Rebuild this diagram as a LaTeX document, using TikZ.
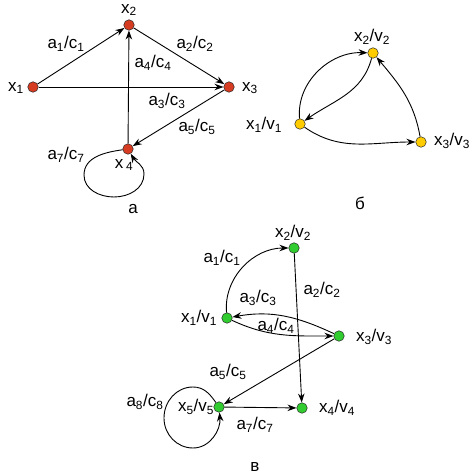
\documentclass[tikz,border=0pt]{standalone}
\usepackage{fontspec}
\setmainfont{Liberation Sans}
\usetikzlibrary{arrows.meta}
\definecolor{dotred}{RGB}{214,60,34}
\definecolor{dotyellow}{RGB}{255,204,0}
\definecolor{dotgreen}{RGB}{48,204,48}
\newcommand{\ac}[1]{a\textsubscript{#1}/c\textsubscript{#1}}
\newcommand{\xv}[1]{x\textsubscript{#1}/v\textsubscript{#1}}

\begin{document}
\begin{tikzpicture}[x=1pt, y=1pt,
  font=\fontsize{17}{20}\selectfont,
  vtx/.style={circle, draw=black!85, line width=0.5pt, inner sep=0pt, minimum size=10.5pt},
  vred/.style={vtx, fill=dotred},
  vyel/.style={vtx, fill=dotyellow},
  vgrn/.style={vtx, fill=dotgreen},
  lbl/.style={inner sep=0pt},
  arrow/.style={-{Stealth[length=9pt,width=6.5pt]}, line width=0.9pt}
]
  \useasboundingbox (0,0) rectangle (473,475);

  % graph a
  \node[vred] (a1) at (33,388) {};
  \node[vred] (a2) at (129,450) {};
  \node[vred] (a3) at (229,388) {};
  \node[vred] (a4) at (128,326) {};
  \node[lbl] (la1) at (16,387) {x\textsubscript{1}};
  \node[lbl] (la2) at (129,465) {x\textsubscript{2}};
  \node[lbl] (la3) at (250,387) {x\textsubscript{3}};
  \node[lbl] (la4) at (124,310) {x\,\textsubscript{4}};

  \draw[arrow] (a1) -- (a2);
  \draw[arrow] (a2) -- (a3);
  \draw[arrow] (a1) -- (a3);
  \draw[arrow] (a3) -- (a4);
  \draw[arrow] (a4) -- (a2);
  \coordinate (loopal) at (84,300);
  \coordinate (loopab) at (114,278);
  \coordinate (loopar) at (144,301);
  \draw[arrow] (a4) to[out=188, in=90] (loopal) to[out=-90, in=180] (loopab)
    to[out=0, in=-90] (loopar) to[out=90, in=-60] (a4);
  \node[lbl] (ea1) at (66,431) {\ac{1}};
  \node[lbl] (ea2) at (195,431) {\ac{2}};
  \node[lbl] (ea4) at (153,412) {\ac{4}};
  \node[lbl] (ea3) at (167,374) {\ac{3}};
  \node[lbl] (ea5) at (197,348) {\ac{5}};
  \node[lbl] (ea7) at (66,320) {\ac{7}};
  \node[lbl] (capa) at (133,266) {а};

  % graph b
  \node[vyel] (b1) at (300,351) {};
  \node[vyel] (b2) at (373,422) {};
  \node[vyel] (b3) at (421,333) {};
  \node[lbl] (lb1) at (264,350) {\xv{1}};
  \node[lbl] (lb2) at (372,438) {\xv{2}};
  \node[lbl] (lb3) at (452,334) {\xv{3}};

  \draw[arrow] (b1) to[out=95, in=178] (b2);
  \draw[arrow] (b2) to[out=-105, in=35] (b1);
  \draw[arrow] (b1) to[out=-35, in=180] (b3);
  \draw[arrow] (b3) to[out=100, in=-50] (b2);
  \node[lbl] (capb) at (360,272) {б};

  % graph v
  \node[vgrn] (c1) at (227,157) {};
  \node[vgrn] (c2) at (294,227) {};
  \node[vgrn] (c3) at (339,139) {};
  \node[vgrn] (c4) at (302,67) {};
  \node[vgrn] (c5) at (219,68) {};
  \node[lbl] (lc1) at (199,157) {\xv{1}};
  \node[lbl] (lc2) at (293,242) {\xv{2}};
  \node[lbl] (lc3) at (374,138) {\xv{3}};
  \node[lbl] (lc4) at (337,67) {\xv{4}};
  \node[lbl] (lc5) at (196,68) {\xv{5}};

  \draw[arrow] (c1) to[out=95, in=180] (c2);
  \draw[arrow] (c2) -- (c4);
  \draw[arrow] (c3) to[out=155, in=10] (c1);
  \draw[arrow] (c1) to[out=-25, in=180] (c3);
  \draw[arrow] (c3) -- (c5);
  \draw[arrow] (c5) -- (c4);
  \coordinate (loopct) at (193,88);
  \coordinate (loopcl) at (164,57);
  \coordinate (loopcb) at (193,27);
  \draw[arrow] (c5) to[out=125, in=0] (loopct) to[out=180, in=90] (loopcl)
    to[out=-90, in=180] (loopcb) to[out=0, in=-85] (c5);
  \node[lbl] (ec1) at (222,217) {\ac{1}};
  \node[lbl] (ec2) at (322,185) {\ac{2}};
  \node[lbl] (ec3) at (258,177) {\ac{3}};
  \node[lbl] (ec4) at (276,149) {\ac{4}};
  \node[lbl] (ec5) at (228,103) {\ac{5}};
  \node[lbl] (ec7) at (255,50) {\ac{7}};
  \node[lbl] (ec8) at (145,73) {\ac{8}};
  \node[lbl] (capv) at (255,8) {в};
\end{tikzpicture}
\end{document}
